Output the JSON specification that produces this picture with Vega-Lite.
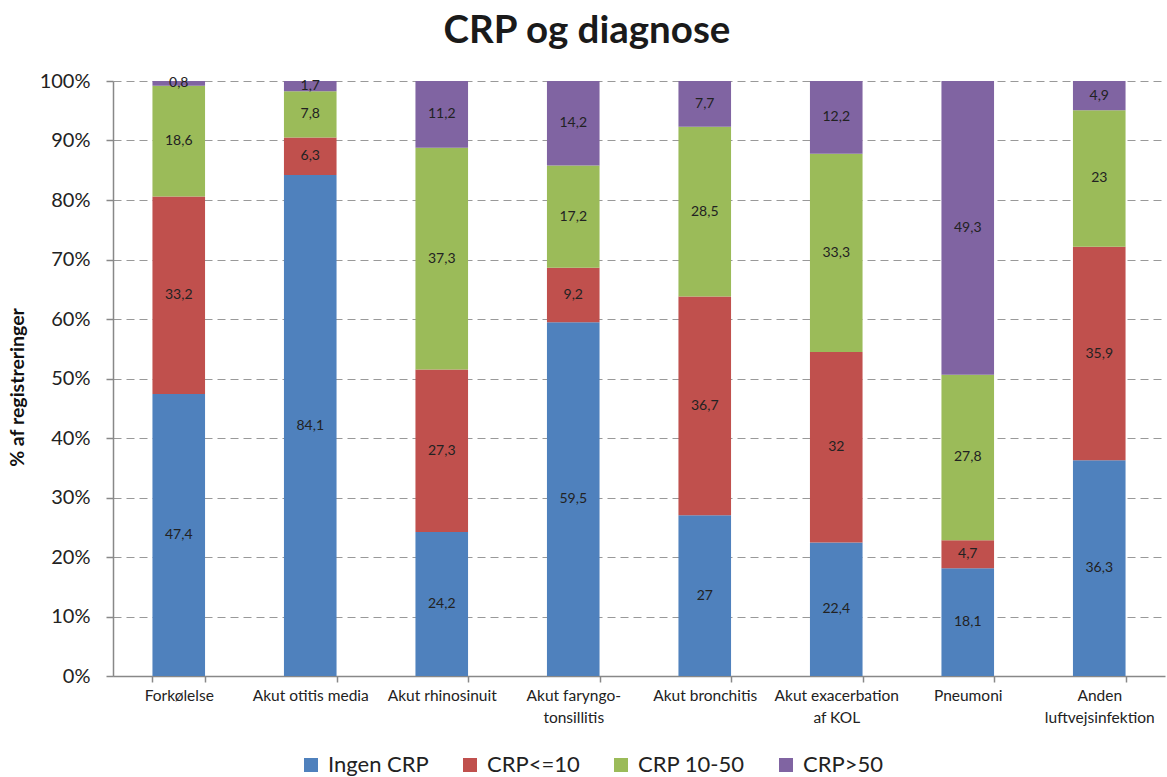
{
  "$schema": "https://vega.github.io/schema/vega-lite/v6.json",
  "width": 1052,
  "height": 595,
  "autosize": {"type": "none"},
  "padding": {"left": 113, "top": 81, "right": 2, "bottom": 101},
  "background": "white",
  "config": {
    "font": "Lato",
    "view": {"stroke": null},
    "locale": {"number": {"decimal": ",", "thousands": ".", "grouping": [3], "currency": ["", " kr."]}}
  },
  "title": {"text": "CRP og diagnose", "fontSize": 38.5, "fontWeight": "bold", "color": "#1a1a1a", "offset": 20, "anchor": "middle", "dx": -52},
  "data": {"values": [
    {"diagnose": "Forkølelse", "serie": "Ingen CRP", "pct": 47.4},
    {"diagnose": "Forkølelse", "serie": "CRP<=10", "pct": 33.2},
    {"diagnose": "Forkølelse", "serie": "CRP 10-50", "pct": 18.6},
    {"diagnose": "Forkølelse", "serie": "CRP>50", "pct": 0.8},
    {"diagnose": "Akut otitis media", "serie": "Ingen CRP", "pct": 84.1},
    {"diagnose": "Akut otitis media", "serie": "CRP<=10", "pct": 6.3},
    {"diagnose": "Akut otitis media", "serie": "CRP 10-50", "pct": 7.8},
    {"diagnose": "Akut otitis media", "serie": "CRP>50", "pct": 1.7},
    {"diagnose": "Akut rhinosinuit", "serie": "Ingen CRP", "pct": 24.2},
    {"diagnose": "Akut rhinosinuit", "serie": "CRP<=10", "pct": 27.3},
    {"diagnose": "Akut rhinosinuit", "serie": "CRP 10-50", "pct": 37.3},
    {"diagnose": "Akut rhinosinuit", "serie": "CRP>50", "pct": 11.2},
    {"diagnose": "Akut faryngo-tonsillitis", "serie": "Ingen CRP", "pct": 59.5},
    {"diagnose": "Akut faryngo-tonsillitis", "serie": "CRP<=10", "pct": 9.2},
    {"diagnose": "Akut faryngo-tonsillitis", "serie": "CRP 10-50", "pct": 17.2},
    {"diagnose": "Akut faryngo-tonsillitis", "serie": "CRP>50", "pct": 14.2},
    {"diagnose": "Akut bronchitis", "serie": "Ingen CRP", "pct": 27},
    {"diagnose": "Akut bronchitis", "serie": "CRP<=10", "pct": 36.7},
    {"diagnose": "Akut bronchitis", "serie": "CRP 10-50", "pct": 28.5},
    {"diagnose": "Akut bronchitis", "serie": "CRP>50", "pct": 7.7},
    {"diagnose": "Akut exacerbation af KOL", "serie": "Ingen CRP", "pct": 22.4},
    {"diagnose": "Akut exacerbation af KOL", "serie": "CRP<=10", "pct": 32},
    {"diagnose": "Akut exacerbation af KOL", "serie": "CRP 10-50", "pct": 33.3},
    {"diagnose": "Akut exacerbation af KOL", "serie": "CRP>50", "pct": 12.2},
    {"diagnose": "Pneumoni", "serie": "Ingen CRP", "pct": 18.1},
    {"diagnose": "Pneumoni", "serie": "CRP<=10", "pct": 4.7},
    {"diagnose": "Pneumoni", "serie": "CRP 10-50", "pct": 27.8},
    {"diagnose": "Pneumoni", "serie": "CRP>50", "pct": 49.3},
    {"diagnose": "Anden luftvejsinfektion", "serie": "Ingen CRP", "pct": 36.3},
    {"diagnose": "Anden luftvejsinfektion", "serie": "CRP<=10", "pct": 35.9},
    {"diagnose": "Anden luftvejsinfektion", "serie": "CRP 10-50", "pct": 23},
    {"diagnose": "Anden luftvejsinfektion", "serie": "CRP>50", "pct": 4.9}
  ]},
  "transform": [
    {"stack": "pct", "groupby": ["diagnose"], "offset": "normalize", "as": ["y0", "y1"]}
  ],
  "encoding": {
    "x": {
      "field": "diagnose", "type": "nominal", "sort": null,
      "scale": {"paddingInner": 0.6, "paddingOuter": 0.3},
      "axis": {
        "title": null, "labelAngle": 0, "labelFontSize": 15.5, "labelColor": "#222",
        "labelPadding": 6, "labelLineHeight": 22, "labelBaseline": "top",
        "tickBand": "extent", "tickSize": 6, "tickColor": "#888", "tickWidth": 1.5,
        "domainColor": "#888", "domainWidth": 1.5, "grid": false,
        "labelExpr": "datum.value == 'Akut faryngo-tonsillitis' ? ['Akut faryngo-', 'tonsillitis'] : datum.value == 'Akut exacerbation af KOL' ? ['Akut exacerbation', 'af KOL'] : datum.value == 'Anden luftvejsinfektion' ? ['Anden', 'luftvejsinfektion'] : datum.value"
      }
    }
  },
  "layer": [
    {
      "mark": {"type": "bar"},
      "encoding": {
        "y": {
          "field": "y0", "type": "quantitative",
          "scale": {"domain": [0, 1], "nice": false},
          "axis": {
            "title": "% af registreringer", "titleFontSize": 19.5, "titleFontWeight": "bold", "titleColor": "#111",
            "titleX": -90, "titleY": 306, "titleBaseline": "alphabetic", "titleAngle": -90,
            "format": ".0%", "values": [0, 0.1, 0.2, 0.3, 0.4, 0.5, 0.6, 0.7, 0.8, 0.9, 1],
            "labelFontSize": 20, "labelColor": "#222", "labelPadding": 16,
            "tickSize": 7, "tickColor": "#888", "tickWidth": 1.5,
            "domainColor": "#888", "domainWidth": 1.5,
            "grid": true, "gridColor": "#999", "gridDash": [8, 5], "gridWidth": 1.2
          }
        },
        "y2": {"field": "y1"},
        "color": {
          "field": "serie", "type": "nominal",
          "scale": {"domain": ["Ingen CRP", "CRP<=10", "CRP 10-50", "CRP>50"], "range": ["#4F81BD", "#C0504D", "#9BBB59", "#8064A2"]},
          "legend": {
            "title": null, "orient": "none", "direction": "horizontal",
            "legendX": 187, "legendY": 673,
            "symbolType": "square", "symbolSize": 196, "symbolStrokeWidth": 0,
            "labelFontSize": 22, "labelColor": "#222", "labelOffset": 6, "columnPadding": 30
          }
        }
      }
    },
    {
      "transform": [
        {"fold": ["y0", "y1"], "as": ["k", "yy"]},
        {"aggregate": [{"op": "mean", "field": "yy", "as": "ymid"}], "groupby": ["diagnose", "serie", "pct"]}
      ],
      "mark": {"type": "text", "fontSize": 14, "color": "#222", "baseline": "middle", "align": "center"},
      "encoding": {
        "y": {"field": "ymid", "type": "quantitative"},
        "text": {"field": "pct", "type": "quantitative", "format": ".1~f"}
      }
    }
  ]
}
